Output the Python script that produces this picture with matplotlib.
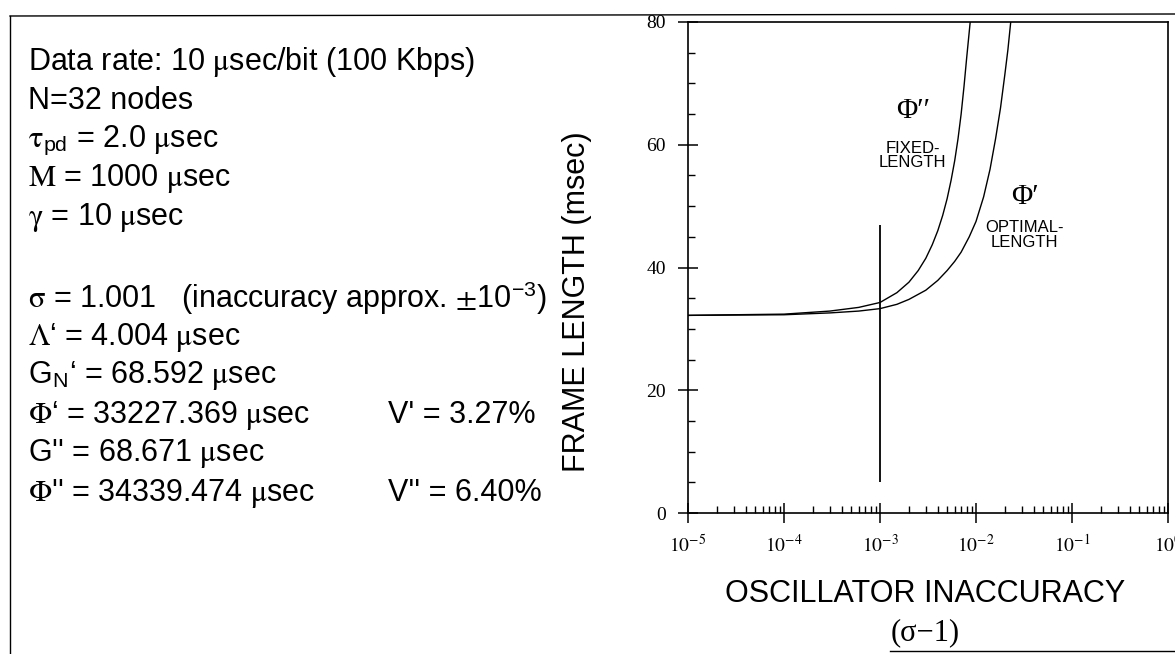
import matplotlib
matplotlib.use("Agg")
import matplotlib.pyplot as plt
import numpy as np
from matplotlib.ticker import LogLocator, MultipleLocator, FixedLocator, NullFormatter

plt.rcParams['font.family'] = ['Liberation Sans', 'DejaVu Sans']
plt.rcParams['mathtext.fontset'] = 'stix'

# ---- data ----
fixed_x = [1e-5, 3e-5, 1e-4, 3e-4, 6e-4, 1e-3, 1.5e-3, 2e-3, 2.5e-3, 3e-3, 3.5e-3, 4e-3,
           4.5e-3, 5e-3, 5.5e-3, 6e-3, 6.5e-3, 7e-3, 7.5e-3, 8e-3, 8.7e-3]
fixed_y = [32.2, 32.3, 32.4, 32.9, 33.5, 34.3, 35.9, 37.6, 39.5, 41.5, 43.7, 46.0,
           48.5, 51.2, 54.2, 57.4, 61.0, 65.0, 69.5, 74.2, 80.0]

opt_x = [1e-5, 3e-5, 1e-4, 3e-4, 6e-4, 1e-3, 1.5e-3, 2e-3, 3e-3, 4e-3, 5e-3, 6e-3, 7e-3,
         8.5e-3, 1e-2, 1.2e-2, 1.4e-2, 1.6e-2, 1.8e-2, 2.0e-2, 2.15e-2, 2.3e-2]
opt_y = [32.2, 32.25, 32.3, 32.6, 32.9, 33.3, 34.0, 34.8, 36.3, 37.9, 39.5, 41.0, 42.5,
         45.0, 47.5, 51.5, 56.0, 61.0, 66.0, 71.5, 75.5, 80.0]

marker_x = 1e-3
marker_y = [5, 47]

xlim = [1e-5, 1e0]
ylim = [0, 80]
yticks = [0, 20, 40, 60, 80]
xticks = [1e-5, 1e-4, 1e-3, 1e-2, 1e-1, 1e0]
xtick_labels = [r'$10^{-5}$', r'$10^{-4}$', r'$10^{-3}$', r'$10^{-2}$', r'$10^{-1}$', r'$10^{0}$']

param_lines = [
    r'Data rate: 10 $\mathrm{\mu}$sec/bit (100 Kbps)',
    r'N=32 nodes',
    r'$\mathrm{\tau}_{\mathregular{pd}}$ = 2.0 $\mathrm{\mu}$sec',
    r'$\mathrm{M}$ = 1000 $\mathrm{\mu}$sec',
    r'$\mathrm{\gamma}$ = 10 $\mathrm{\mu}$sec',
    None,
    r'$\mathrm{\sigma}$ = 1.001   (inaccuracy approx. $\pm$10$^{\mathregular{-3}}$)',
    r'$\Lambda$‘ = 4.004 $\mathrm{\mu}$sec',
    r'G$_{\mathregular{N}}$‘ = 68.592 $\mathrm{\mu}$sec',
    r'$\Phi$‘ = 33227.369 $\mathrm{\mu}$sec',
    r"G'' = 68.671 $\mathrm{\mu}$sec",
    r"$\Phi$'' = 34339.474 $\mathrm{\mu}$sec",
]
v_lines = {9: "V' = 3.27%", 11: "V'' = 6.40%"}

W, H = 1175, 654
fig = plt.figure(figsize=(W / 100, H / 100), dpi=100)
fig.patch.set_facecolor('white')

# outer frame lines
fig.add_artist(plt.Line2D([10 / W, 10 / W], [1 - 16 / H, 0], color='black', lw=1.0, transform=fig.transFigure))
fig.add_artist(plt.Line2D([10 / W, 1], [1 - 16 / H, 1 - 14 / H], color='black', lw=1.0, transform=fig.transFigure))
fig.add_artist(plt.Line2D([890 / W, 1], [1 - 651 / H, 1 - 651 / H], color='black', lw=1.0, transform=fig.transFigure))

left, right, top, bottom = 688, 1168, 22, 513
ax = fig.add_axes([left / W, 1 - bottom / H, (right - left) / W, (bottom - top) / H])
ax.set_xscale('log')
ax.set_xlim(xlim)
ax.set_ylim(ylim)

ax.plot(fixed_x, fixed_y, color='black', lw=1.0)
ax.plot(opt_x, opt_y, color='black', lw=1.0)
ax.vlines(marker_x, marker_y[0], marker_y[1], color='black', lw=1.3)

for s in ax.spines.values():
    s.set_linewidth(1.2)

ax.xaxis.set_major_locator(FixedLocator(xticks))
ax.set_xticklabels(xtick_labels)
ax.xaxis.set_minor_locator(LogLocator(base=10, subs=np.arange(2, 10), numticks=20))
ax.xaxis.set_minor_formatter(NullFormatter())
ax.yaxis.set_major_locator(FixedLocator(yticks))
ax.yaxis.set_minor_locator(MultipleLocator(5))

ax.tick_params(axis='both', which='major', direction='inout', length=14, width=1.1,
               labelsize=14, colors='black', top=False, right=False)
ax.tick_params(axis='x', which='major', pad=8)
ax.tick_params(axis='y', which='major', pad=9)
ax.tick_params(axis='both', which='minor', direction='in', length=5, width=1.0, top=False, right=False)
for lbl in ax.get_yticklabels():
    lbl.set_family('Liberation Serif')

# curve annotations
serif = ['Liberation Serif', 'DejaVu Serif']
ax.text(2.2e-3, 65.5, "Φ′′", fontsize=21, ha='center', va='center', family=serif)
ax.text(2.2e-3, 58.2, 'FIXED-\nLENGTH', fontsize=12, ha='center', va='center', linespacing=0.95)
ax.text(3.2e-2, 51.5, "Φ′", fontsize=21, ha='center', va='center', family=serif)
ax.text(3.2e-2, 45.3, 'OPTIMAL-\nLENGTH', fontsize=12, ha='center', va='center', linespacing=0.95)

# axis labels
fig.text(577 / W, 1 - 302 / H, 'FRAME LENGTH (msec)', rotation=90, fontsize=22,
         ha='center', va='center')
fig.text(925 / W, 1 - 594 / H, 'OSCILLATOR INACCURACY', fontsize=22, ha='center', va='center')
fig.text(925 / W, 1 - 633 / H, '(σ−1)', fontsize=22, ha='center', va='center', family=serif)

# parameter text
y0, dy = 62, 39
for i, line in enumerate(param_lines):
    if line is None:
        continue
    y = y0 + i * dy + (2 if i >= 6 else 0)
    fig.text(28 / W, 1 - y / H, line, fontsize=22, ha='left', va='center')
    if i in v_lines:
        fig.text(388 / W, 1 - y / H, v_lines[i], fontsize=22, ha='left', va='center')

fig.savefig('out.png', dpi=100, facecolor='white')
